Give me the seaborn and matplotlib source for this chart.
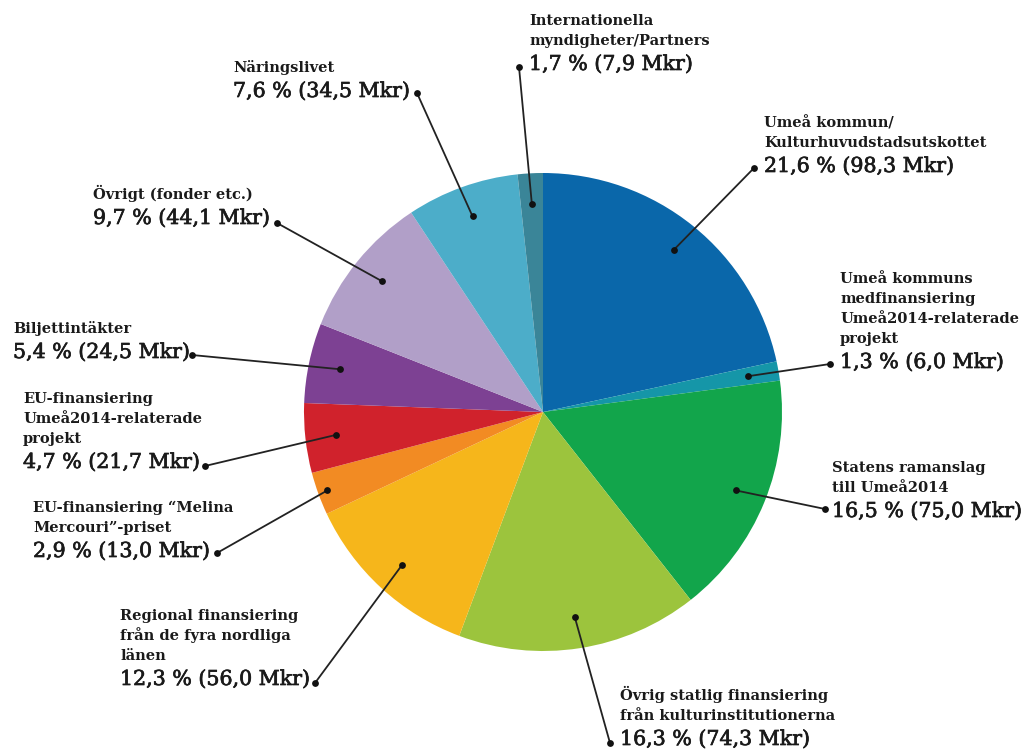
import matplotlib
matplotlib.use("Agg")
import matplotlib.pyplot as plt
import matplotlib.patheffects as pe
import seaborn as sns
import numpy as np

# ---- data ----
categories = [
    "Umeå kommun/\nKulturhuvudstadsutskottet",
    "Umeå kommuns\nmedfinansiering\nUmeå2014-relaterade\nprojekt",
    "Statens ramanslag\ntill Umeå2014",
    "Övrig statlig finansiering\nfrån kulturinstitutionerna",
    "Regional finansiering\nfrån de fyra nordliga\nlänen",
    "EU-finansiering \u201cMelina\nMercouri\u201d-priset",
    "EU-finansiering\nUmeå2014-relaterade\nprojekt",
    "Biljettintäkter",
    "Övrigt (fonder etc.)",
    "Näringslivet",
    "Internationella\nmyndigheter/Partners",
]
shares = [21.6, 1.3, 16.5, 16.3, 12.3, 2.9, 4.7, 5.4, 9.7, 7.6, 1.7]
amounts = [98.3, 6.0, 75.0, 74.3, 56.0, 13.0, 21.7, 24.5, 44.1, 34.5, 7.9]
colors = ["#0a67aa", "#1596a8", "#12a54b", "#9cc43d", "#f6b61b", "#f28b23",
          "#d0222c", "#7d4193", "#b19fc8", "#4cadc9", "#3a8598"]

# ---- layout (pixels) ----
W, H = 1021, 749
CX, CY, R = 543, 412, 239
# text left x, baseline of value line, end-dot position, dot radius fraction in slice
label_x = [764, 840, 832, 620, 120, 33, 23, 13, 93, 233, 529]
value_base = [172, 368, 517, 745, 685, 557, 468, 358, 224, 97, 70]
end_dot = [(754, 168), (830, 364), (825, 509), (610, 743), (315, 683), (217, 553),
           (205, 466), (192, 355), (277, 223), (417, 93), (519, 67)]
dot_r = [0.87, 0.87, 0.87, 0.87, 0.87, 0.96, 0.87, 0.87, 0.87, 0.87, 0.87]


def P(x, y):
    return (x - CX) / R, (CY - y) / R


sns.set_theme(style="white")
plt.rcParams["font.family"] = ["DejaVu Serif", "DejaVu Sans"]

fig = plt.figure(figsize=(W / 100, H / 100), dpi=100)
ax = fig.add_axes([0, 0, 1, 1])
pal = sns.color_palette(colors)
wedges, _ = ax.pie(shares, colors=pal, startangle=90, counterclock=False,
                   radius=1, center=(0, 0), wedgeprops=dict(linewidth=0))
ax.set_xlim(-CX / R, (W - CX) / R)
ax.set_ylim((CY - H) / R, CY / R)
ax.set_aspect("equal")
ax.axis("off")

txt_col = "#1a1a1a"
thick = [pe.withStroke(linewidth=0.5, foreground=txt_col)]

for i, w in enumerate(wedges):
    mid = np.deg2rad((w.theta1 + w.theta2) / 2)
    sx, sy = dot_r[i] * np.cos(mid), dot_r[i] * np.sin(mid)
    ex, ey = P(*end_dot[i])
    ax.plot([sx, ex], [sy, ey], color="#222222", lw=1.3, zorder=3)
    ax.scatter([sx, ex], [sy, ey], s=24, color="#111111", zorder=4, linewidths=0)
    val = f"{shares[i]:.1f} % ({amounts[i]:.1f} Mkr)".replace(".", ",")
    tx, ty = P(label_x[i], value_base[i])
    ax.text(tx, ty, val, fontsize=14.8, color=txt_col, ha="left", va="baseline",
            path_effects=thick)
    lines = categories[i].split("\n")
    n = len(lines)
    for j, line in enumerate(lines):
        by = value_base[i] - 25 - 20 * (n - 1 - j)
        lx, ly = P(label_x[i], by)
        ax.text(lx, ly, line, fontsize=10.5, color=txt_col, ha="left",
                va="baseline", fontweight="bold")

fig.savefig("out.png", dpi=100)
